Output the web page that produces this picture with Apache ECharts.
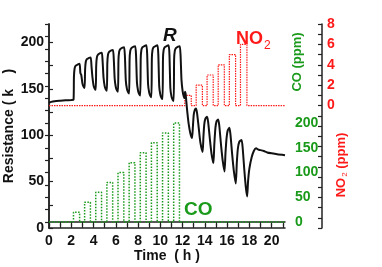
<!DOCTYPE html>
<html><head><meta charset="utf-8">
<script src="https://cdn.jsdelivr.net/npm/echarts@6/dist/echarts.min.js"></script>
<style>html,body{margin:0;padding:0;background:#fff}#c{width:382px;height:267px}</style>
</head><body><div id="c"></div>
<script>
// Resistance curve (kΩ) vs time (h)
const rTime = [0,0.2,0.5,1.0,1.5,2.0,2.2,
 2.24,2.3,2.4,2.6,2.75,2.82,2.9,3.0,3.1,
 3.2,3.24,3.3,3.4,3.6,3.75,3.82,3.9,4.0,4.1,
 4.2,4.24,4.3,4.4,4.6,4.75,4.82,4.9,5.0,5.1,
 5.2,5.24,5.3,5.4,5.6,5.75,5.82,5.9,6.0,6.1,
 6.2,6.24,6.3,6.4,6.6,6.75,6.82,6.9,7.0,7.1,
 7.2,7.24,7.3,7.4,7.6,7.75,7.82,7.9,8.0,8.1,
 8.2,8.24,8.3,8.4,8.6,8.75,8.82,8.9,9.0,9.1,
 9.2,9.24,9.3,9.4,9.6,9.75,9.82,9.9,10.0,10.1,
 10.2,10.24,10.3,10.4,10.6,10.75,10.82,10.9,11.0,11.1,
 11.2,11.24,11.3,11.4,11.6,11.75,11.82,11.9,12.0,12.1,12.17,12.22,12.27,
 12.4,12.55,12.7,12.85,12.92,13.0,13.1,13.2,13.3,13.45,13.6,13.8,
 13.87,13.95,14.05,14.2,14.3,14.45,14.6,14.77,
 14.85,14.95,15.05,15.2,15.3,15.45,15.6,15.77,
 15.85,15.95,16.05,16.2,16.3,16.45,16.6,16.78,
 16.87,16.97,17.1,17.3,17.4,17.55,17.68,17.8,
 17.88,18.0,18.2,18.4,18.6,18.8,19.0,19.3,19.6,20.0,20.5,21.2];
const rValue = [135,136,136.8,137.3,137.7,138,138.2,
 163,172,175,176.5,177,167,165,156,152.5,
 151,170,179,182,183.5,184,174,163,154,150.5,
 149,175,184,187,188.5,189,179,162,153,149.5,
 148,178,187,190,191.5,192,182,161,152,148.5,
 147,181,190,193,194.5,195,185,159,150,146.5,
 145,182,191,194,195.5,196,186,157,148,144.5,
 143,183,192,195,196.5,197,187,155,146,142.5,
 141,183,192,195,196.5,197,187,153,144,140.5,
 139,183,192,195,196.5,197,187,151,142,138.5,
 137,182,191,194,195.5,196,186,160,148,142,140,147,145,
 128,112,102,97,108,122,127.5,129,124,108,92,82,
 98,112,118,120,114,96,80,70,
 90,108,115,117,110,90,73,61,
 80,97,105,108,101,80,62,48,
 70,86,93,95,86,62,44,34,
 50,64,76,83,86,84.5,84,83,81.5,80.5,79.5,78.5];

// CO exposure pulses (ppm)
const coOn  = [2.2,3.2,4.2,5.2,6.2,7.2,8.2,9.2,10.2,11.2];
const coOff = [2.75,3.72,4.72,5.72,6.72,7.72,8.72,9.72,10.72,11.72];
const coLevel = [20,40,60,80,100,120,140,160,180,200];

// NO2 exposure pulses (ppm)
const no2On  = [12.2,13.22,14.2,15.2,16.2,17.2];
const no2Off = [12.78,13.78,14.75,15.75,16.76,17.78];
const no2Level = [1,2,3,4,5,6];

const xMax = 21.2;
const xLabels = [0,2,4,6,8,10,12,14,16,18,20];
const rLabels = [0,50,100,150,200];
const coLabels = [0,50,100,150,200];
const no2Labels = [0,2,4,6,8];

function pulses(on, off, lvl) {
  const d = [[0, 0]];
  for (let i = 0; i < on.length; i++) {
    d.push([on[i], 0], [on[i], lvl[i]], [off[i], lvl[i]], [off[i], 0]);
  }
  d.push([xMax, 0]);
  return d;
}
function range(a, b, s) { const r = []; for (let v = a; v <= b + 1e-9; v += s) r.push(+v.toFixed(4)); return r; }

const GREEN = '#1a9a1a', RED = '#ff1a1a', FONT = 'Liberation Sans, Arial, sans-serif';
const axisLine = {show: true, lineStyle: {color: '#222', width: 1.5}};
const lbl = (vals, color, margin) => ({show: true, customValues: vals, color, fontWeight: 'bold', fontSize: 14, fontFamily: FONT, margin});

const chart = echarts.init(document.getElementById('c'), null, {renderer: 'canvas'});
chart.setOption({
  animation: false,
  backgroundColor: '#fff',
  grid: {left: 49, right: 97, top: 24, bottom: 39, containLabel: false, outerBoundsMode: 'none'},
  xAxis: [
    {type: 'value', position: 'bottom', min: 0, max: xMax, axisLine,
     axisTick: {show: true, inside: true, length: 4, customValues: range(0, 21, 1), lineStyle: {color: '#222', width: 1.2}},
     axisLabel: lbl(xLabels, '#111', 6), splitLine: {show: false},
     name: 'Time  ( h )', nameLocation: 'middle', nameGap: 21, nameMoveOverlap: false,
     nameTextStyle: {fontWeight: 'bold', fontSize: 14, fontFamily: FONT, color: '#111'}},
    {type: 'value', position: 'top', min: 0, max: xMax, axisLine,
     axisTick: {show: true, inside: true, length: 4, customValues: range(0, 21, 1), lineStyle: {color: '#222', width: 1.2}},
     axisLabel: {show: false}, splitLine: {show: false}}
  ],
  yAxis: [
    {type: 'value', position: 'left', min: 0, max: 220, axisLine,
     axisTick: {show: true, inside: true, length: 4, customValues: range(0, 200, 25), lineStyle: {color: '#222', width: 1.2}},
     axisLabel: lbl(rLabels, '#111', 5), splitLine: {show: false},
     name: 'Resistance ( k    )', nameLocation: 'middle', nameGap: 33, nameMoveOverlap: false,
     nameTextStyle: {fontWeight: 'bold', fontSize: 14, fontFamily: FONT, color: '#111'}},
    {type: 'value', position: 'right', offset: 0, min: -12, max: 400, axisLine,
     axisTick: {show: true, inside: true, length: 4, customValues: range(0, 400, 25), lineStyle: {color: '#222', width: 1.2}},
     axisLabel: lbl(coLabels, GREEN, 10), splitLine: {show: false}},
    {type: 'value', position: 'right', offset: 37, min: -12, max: 8, axisLine,
     axisTick: {show: true, inside: true, length: 4, customValues: range(-12, 8, 1), lineStyle: {color: '#222', width: 1.2}},
     axisLabel: lbl(no2Labels, RED, 5), splitLine: {show: false}}
  ],
  series: [
    {type: 'line', name: 'CO', xAxisIndex: 0, yAxisIndex: 1, data: pulses(coOn, coOff, coLevel),
     showSymbol: false, lineStyle: {color: GREEN, width: 1.5, type: [1.5, 1.5]}, z: 2},
    {type: 'line', name: 'NO2', xAxisIndex: 0, yAxisIndex: 2, data: pulses(no2On, no2Off, no2Level),
     showSymbol: false, lineStyle: {color: RED, width: 1.2, type: [1.5, 1]}, z: 3},
    {type: 'line', name: 'R', xAxisIndex: 0, yAxisIndex: 0, data: rTime.map((t, i) => [t, rValue[i]]),
     showSymbol: false, smooth: 0.2, lineStyle: {color: '#111', width: 2}, z: 4}
  ],
  graphic: [
    {type: 'text', x: 163, y: 26, style: {text: 'R', fontStyle: 'italic', fontWeight: 'bold', fontSize: 19, fontFamily: FONT, fill: '#111'}},
    {type: 'text', x: 236, y: 27, style: {text: '{a|NO}{b|2}', rich: {
      a: {fontWeight: 'bold', fontSize: 18, fontFamily: FONT, fill: RED},
      b: {fontSize: 12, fontFamily: FONT, fill: RED, padding: [13, 0, 0, 1]}}}},
    {type: 'text', x: 184, y: 200, style: {text: 'CO', fontWeight: 'bold', fontSize: 19, fontFamily: FONT, fill: GREEN}},
    {type: 'text', x: 297, y: 62, rotation: Math.PI / 2,
     style: {text: 'CO (ppm)', fontWeight: 'bold', fontSize: 13, fontFamily: FONT, fill: GREEN, align: 'center', verticalAlign: 'middle'}},
    {type: 'text', x: 341, y: 165, rotation: Math.PI / 2,
     style: {text: '{a|NO}{b|2}{a| (ppm)}', align: 'center', verticalAlign: 'middle', rich: {
      a: {fontWeight: 'bold', fontSize: 13, fontFamily: FONT, fill: RED},
      b: {fontSize: 8, fontFamily: FONT, fill: RED, padding: [8, 0, 0, 1]}}}}
  ]
});
</script></body></html>
